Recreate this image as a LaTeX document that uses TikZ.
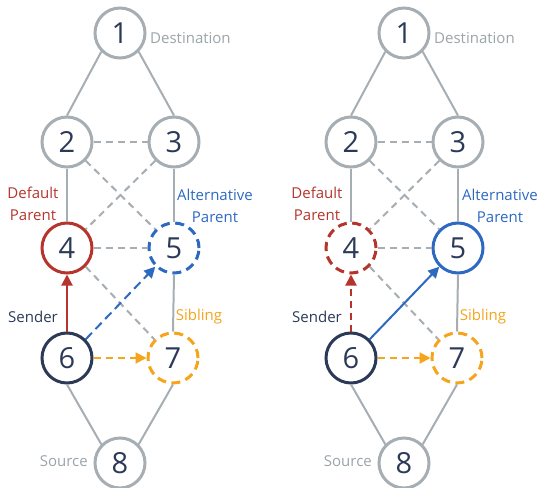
\documentclass[tikz,border=0pt]{standalone}
\usepackage{fontspec}
\setmainfont{Open Sans}
\usetikzlibrary{arrows.meta}
\definecolor{edgegray}{HTML}{A6AEB3}
\definecolor{labgray}{HTML}{9BA4A9}
\definecolor{navy}{HTML}{2C3A58}
\definecolor{pred}{HTML}{B5352C}
\definecolor{pblue}{HTML}{2D69C1}
\definecolor{porange}{HTML}{F5A41C}
\tikzset{
  nd/.style={circle, minimum size=50pt, inner sep=0pt, line width=3pt, draw=edgegray,
    text=navy, font=\fontsize{29}{29}\selectfont},
  ndnavy/.style={nd, draw=navy},
  ndred/.style={nd, draw=pred},
  ndredd/.style={nd, draw=pred, dash pattern=on 9pt off 5.5pt},
  ndblue/.style={nd, draw=pblue},
  ndblued/.style={nd, draw=pblue, dash pattern=on 9pt off 5.5pt},
  ndorad/.style={nd, draw=porange, dash pattern=on 9pt off 5.5pt},
  solidedge/.style={draw=edgegray, line width=2pt},
  dashedge/.style={draw=edgegray, line width=2pt, dash pattern=on 7pt off 5pt},
  tip/.style={-{Triangle[length=11pt,width=11pt]}},
  lab/.style={font=\fontsize{15}{21.5}\selectfont, align=center, inner sep=0pt},
}
\begin{document}
\begin{tikzpicture}[x=1pt,y=-1pt]
\useasboundingbox (0,0) rectangle (543,487);
% ---------- left panel ----------
\node[nd] (L1) at (120,33) {1};
\node[nd] (L2) at (67,142) {2};
\node[nd] (L3) at (174,142) {3};
\node[ndred] (L4) at (67,248) {4};
\node[ndblued] (L5) at (174,248) {5};
\node[ndnavy] (L6) at (67,358) {6};
\node[ndorad] (L7) at (173,358) {7};
\node[nd] (L8) at (120,463) {8};
\draw[solidedge] (L1.225) -- (L2.north);
\draw[solidedge] (L1.-45) -- (L3.north);
\draw[dashedge] (L2.east) -- (L3.west);
\draw[solidedge] (L2.south) -- (L4.north);
\draw[solidedge] (L3.south) -- (L5.north);
\draw[dashedge] (L2.-45) -- (L5.135);
\draw[dashedge] (L3.-135) -- (L4.45);
\draw[dashedge] (L4.east) -- (L5.west);
\draw[dashedge] (L4.-45) -- (L7.135);
\draw[solidedge] (L5.south) -- (L7.north);
\draw[solidedge] (L6.south) -- (L8.135);
\draw[solidedge] (L7.south) -- (L8.45);
\draw[tip, draw=pred, fill=pred, line width=2pt] (L6.north) -- (L4.south);
\draw[draw=pblue, line width=2pt, dash pattern=on 9pt off 5pt, -{Triangle[length=11pt,width=11pt,fill=pblue]}] (L6.45) -- (L5.-135);
\draw[draw=porange, line width=2pt, dash pattern=on 7pt off 5pt, -{Triangle[length=11pt,width=11pt,fill=porange]}] (L6.east) -- (L7.west);
\node[lab, text=labgray, anchor=west] (Ldest) at (150,38) {Destination};
\node[lab, text=pred] (Ldef) at (33,204) {Default\\Parent};
\node[lab, text=pblue] (Lalt) at (215,206) {Alternative\\Parent};
\node[lab, text=navy] (Lsend) at (33,317) {Sender};
\node[lab, text=porange] (Lsib) at (199,317) {Sibling};
\node[lab, text=labgray, anchor=east] (Lsrc) at (88,461) {Source};
% ---------- right panel ----------
\node[nd] (R1) at (404,33) {1};
\node[nd] (R2) at (351,142) {2};
\node[nd] (R3) at (458,142) {3};
\node[ndredd] (R4) at (351,248) {4};
\node[ndblue] (R5) at (458,248) {5};
\node[ndnavy] (R6) at (351,358) {6};
\node[ndorad] (R7) at (457,358) {7};
\node[nd] (R8) at (404,463) {8};
\draw[solidedge] (R1.225) -- (R2.north);
\draw[solidedge] (R1.-45) -- (R3.north);
\draw[dashedge] (R2.east) -- (R3.west);
\draw[solidedge] (R2.south) -- (R4.north);
\draw[solidedge] (R3.south) -- (R5.north);
\draw[dashedge] (R2.-45) -- (R5.135);
\draw[dashedge] (R3.-135) -- (R4.45);
\draw[dashedge] (R4.east) -- (R5.west);
\draw[dashedge] (R4.-45) -- (R7.135);
\draw[solidedge] (R5.south) -- (R7.north);
\draw[solidedge] (R6.south) -- (R8.135);
\draw[solidedge] (R7.south) -- (R8.45);
\draw[draw=pred, line width=2pt, dash pattern=on 7pt off 5pt, -{Triangle[length=11pt,width=11pt,fill=pred]}] (R6.north) -- (R4.south);
\draw[tip, draw=pblue, fill=pblue, line width=2pt] (R6.45) -- (R5.-135);
\draw[draw=porange, line width=2pt, dash pattern=on 7pt off 5pt, -{Triangle[length=11pt,width=11pt,fill=porange]}] (R6.east) -- (R7.west);
\node[lab, text=labgray, anchor=west] (Rdest) at (434,38) {Destination};
\node[lab, text=pred] (Rdef) at (317,204) {Default\\Parent};
\node[lab, text=pblue] (Ralt) at (500,206) {Alternative\\Parent};
\node[lab, text=navy] (Rsend) at (317,317) {Sender};
\node[lab, text=porange] (Rsib) at (483,317) {Sibling};
\node[lab, text=labgray, anchor=east] (Rsrc) at (372,461) {Source};
\end{tikzpicture}
\end{document}
